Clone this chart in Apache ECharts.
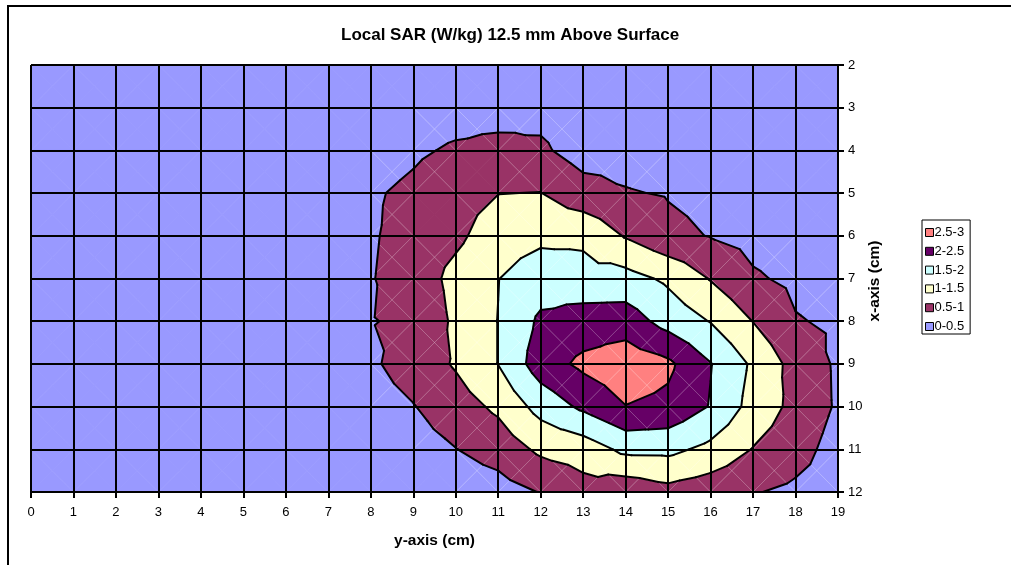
<!DOCTYPE html>
<html><head><meta charset="utf-8">
<script src="https://cdn.jsdelivr.net/npm/echarts@6/dist/echarts.min.js"></script>
<style>html,body{margin:0;padding:0;background:#fff}#c{width:1011px;height:565px}</style>
</head><body><div id="c"></div>
<script>
// Grid coordinates (cm)
const xValues = [0,1,2,3,4,5,6,7,8,9,10,11,12,13,14,15,16,17,18,19];
const yValues = [2,3,4,5,6,7,8,9,10,11,12];
// SAR values (W/kg), one row per yValues entry, one column per xValues entry
const sarRow2  = [0.02,0.02,0.03,0.03,0.04,0.05,0.06,0.08,0.10,0.13,0.16,0.18,0.20,0.17,0.14,0.12,0.10,0.08,0.07,0.06];
const sarRow3  = [0.03,0.03,0.04,0.05,0.06,0.07,0.09,0.12,0.18,0.26,0.31,0.29,0.35,0.22,0.18,0.15,0.13,0.11,0.09,0.07];
const sarRow4  = [0.04,0.04,0.05,0.06,0.08,0.10,0.13,0.20,0.30,0.43,0.56,0.65,0.58,0.29,0.33,0.25,0.20,0.16,0.13,0.10];
const sarRow5  = [0.05,0.05,0.06,0.08,0.10,0.13,0.18,0.28,0.45,0.59,0.80,0.99,1.01,0.69,0.53,0.47,0.38,0.30,0.22,0.15];
const sarRow6  = [0.05,0.06,0.07,0.09,0.11,0.15,0.20,0.30,0.46,0.65,0.88,1.30,1.40,1.40,0.96,0.62,0.48,0.35,0.25,0.18];
const sarRow7  = [0.06,0.06,0.07,0.09,0.12,0.16,0.21,0.32,0.48,0.67,1.17,1.49,1.75,1.68,1.68,1.41,0.97,0.56,0.40,0.30];
const sarRow8  = [0.06,0.06,0.08,0.10,0.12,0.16,0.22,0.33,0.49,0.54,1.10,1.51,2.09,2.23,2.26,1.81,1.48,0.99,0.53,0.43];
const sarRow9  = [0.05,0.06,0.07,0.09,0.11,0.15,0.20,0.30,0.43,0.71,1.05,1.51,2.26,2.61,2.80,2.60,2.02,1.42,0.82,0.43];
const sarRow10 = [0.05,0.05,0.06,0.08,0.10,0.13,0.17,0.23,0.30,0.48,0.77,1.10,1.68,2.10,2.49,2.38,1.97,1.32,0.86,0.44];
const sarRow11 = [0.04,0.04,0.05,0.06,0.08,0.10,0.12,0.16,0.20,0.30,0.49,0.70,1.10,1.22,1.62,1.63,1.37,0.98,0.70,0.30];
const sarRow12 = [0.03,0.03,0.04,0.05,0.06,0.07,0.08,0.09,0.10,0.15,0.20,0.30,0.52,0.82,0.65,0.84,0.70,0.53,0.40,0.25];
const sarGrid = [sarRow2,sarRow3,sarRow4,sarRow5,sarRow6,sarRow7,sarRow8,sarRow9,sarRow10,sarRow11,sarRow12];

// Bands
const bandLabels = ['0-0.5','0.5-1','1-1.5','1.5-2','2-2.5','2.5-3'];
const bandLows   = [-Infinity,0.5,1,1.5,2,2.5];
const bandHighs  = [0.5,1,1.5,2,2.5,Infinity];
const contourLevels = [0.5,1,1.5,2,2.5];
const bandColors = ['#9999FF','#993366','#FFFFCC','#CCFFFF','#660066','#FF8080'];

function buildCells(){
  const out=[];
  for (let j=0;j<yValues.length-1;j++){
    for (let i=0;i<xValues.length-1;i++){
      out.push([xValues[i], yValues[j], xValues[i+1], yValues[j+1],
        sarGrid[j][i], sarGrid[j][i+1], sarGrid[j+1][i+1], sarGrid[j+1][i]]);
    }
  }
  return out;
}
const cells = buildCells();

function clipPoly(poly, level, keepAbove){
  const out=[];
  for (let k=0;k<poly.length;k++){
    const P=poly[k], Q=poly[(k+1)%poly.length];
    const pin = keepAbove ? P[2]>=level : P[2]<=level;
    const qin = keepAbove ? Q[2]>=level : Q[2]<=level;
    if (pin) out.push(P);
    if (pin!==qin){
      const t=(level-P[2])/(Q[2]-P[2]);
      out.push([P[0]+t*(Q[0]-P[0]), P[1]+t*(Q[1]-P[1]), level]);
    }
  }
  return out;
}
function cellCorners(api){
  const x0=api.value(0), y0=api.value(1), x1=api.value(2), y1=api.value(3);
  const a=api.value(4), b=api.value(5), c=api.value(6), d=api.value(7);
  return {P:[[x0,y0,a],[x1,y0,b],[x1,y1,c],[x0,y1,d]], C:[(x0+x1)/2,(y0+y1)/2,(a+b+c+d)/4]};
}
function cellTriangles(api){
  const g=cellCorners(api), tris=[];
  for (let k=0;k<4;k++) tris.push([g.P[k],g.P[(k+1)%4],g.C]);
  return tris;
}
function bandRenderer(lo, hi, color){
  return function(params, api){
    const children=[];
    cellTriangles(api).forEach(function(tri){
      let poly=tri;
      if (lo>-Infinity) poly=clipPoly(poly,lo,true);
      if (poly.length>=3 && hi<Infinity) poly=clipPoly(poly,hi,false);
      if (poly.length>=3){
        children.push({type:'polygon', silent:true,
          shape:{points:poly.map(function(p){return api.coord([p[0],p[1]]);})},
          style:{fill:color, stroke:color, lineWidth:0.8}});
      }
    });
    return {type:'group', children:children};
  };
}
function contourRenderer(params, api){
  const children=[];
  const g=cellCorners(api);
  const vals=g.P.map(function(p){return p[2];}).concat([g.C[2]]);
  const vmin=Math.min.apply(null,vals), vmax=Math.max.apply(null,vals);
  const crossed=contourLevels.some(function(L){return vmin<L && vmax>=L;});
  if (crossed){
    // faint seams between the cell's triangles, as in the original rendering
    [[0,2],[1,3]].forEach(function(pr){
      const p=api.coord([g.P[pr[0]][0],g.P[pr[0]][1]]), q=api.coord([g.P[pr[1]][0],g.P[pr[1]][1]]);
      children.push({type:'line', silent:true,
        shape:{x1:p[0],y1:p[1],x2:q[0],y2:q[1]},
        style:{stroke:'rgba(255,255,255,0.26)', lineWidth:1}});
    });
  }
  cellTriangles(api).forEach(function(tri){
    contourLevels.forEach(function(L){
      const pts=[];
      for (let k=0;k<3;k++){
        const P=tri[k], Q=tri[(k+1)%3];
        if ((P[2]>=L)!==(Q[2]>=L)){
          const t=(L-P[2])/(Q[2]-P[2]);
          pts.push(api.coord([P[0]+t*(Q[0]-P[0]), P[1]+t*(Q[1]-P[1])]));
        }
      }
      if (pts.length===2){
        children.push({type:'polyline', silent:true, shape:{points:pts},
          style:{stroke:'#000', lineWidth:2, lineCap:'round', fill:null}});
      }
    });
  });
  return {type:'group', children:children};
}

const series=[];
for (let b=0;b<bandLabels.length;b++){
  series.push({type:'custom', name:bandLabels[b], data:cells, z:1,
    encode:{x:[0,2], y:[1,3]}, itemStyle:{color:bandColors[b]},
    renderItem:bandRenderer(bandLows[b], bandHighs[b], bandColors[b])});
}
series.push({type:'custom', name:'contours', data:cells, z:3,
  encode:{x:[0,2], y:[1,3]}, renderItem:contourRenderer});

const FONT='"Liberation Sans", Arial, sans-serif';
const chart = echarts.init(document.getElementById('c'), null, {renderer:'canvas'});
chart.setOption({
  animation:false,
  backgroundColor:'#fff',
  title:{text:'Local SAR (W/kg) 12.5 mm Above Surface', left:341, top:27, padding:0,
    textStyle:{fontFamily:FONT, fontSize:17, fontWeight:'bold', color:'#000'}},
  grid:{left:31, right:173, top:65, bottom:73, containLabel:false},
  legend:{orient:'vertical', left:922, top:220, padding:[6,6,1,3], itemGap:5.8,
    itemWidth:8, itemHeight:8, icon:'rect', borderColor:'#000', borderWidth:1,
    itemStyle:{borderColor:'#000', borderWidth:1},
    data:bandLabels.slice().reverse(),
    textStyle:{fontFamily:FONT, fontSize:13, color:'#000', padding:[0,0,0,-4]}},
  xAxis:{type:'value', min:0, max:19, interval:1, position:'bottom', z:5,
    name:'y-axis (cm)', nameLocation:'middle', nameGap:41,
    nameTextStyle:{fontFamily:FONT, fontSize:15.5, fontWeight:'bold', color:'#000'},
    axisLine:{show:true, lineStyle:{color:'#000', width:2}},
    axisTick:{show:true, length:6, lineStyle:{color:'#000', width:2}},
    axisLabel:{fontFamily:FONT, fontSize:13, color:'#000', margin:14},
    splitLine:{show:true, lineStyle:{color:'#000', width:2}}},
  yAxis:{type:'value', min:2, max:12, interval:1, inverse:true, position:'right', z:5,
    axisLine:{show:true, onZero:false, lineStyle:{color:'#000', width:2}},
    axisTick:{show:true, length:6, lineStyle:{color:'#000', width:2}},
    axisLabel:{fontFamily:FONT, fontSize:13, color:'#000', margin:10},
    splitLine:{show:true, lineStyle:{color:'#000', width:2}}},
  graphic:[
    {type:'rect', silent:true, z:-10, shape:{x:8, y:6, width:1200, height:800},
      style:{fill:null, stroke:'#000', lineWidth:2}},
    {type:'text', silent:true, x:875, y:281, rotation:Math.PI/2,
      style:{text:'x-axis (cm)', fontFamily:FONT, fontSize:15.5, fontWeight:'bold', fill:'#000',
        align:'center', verticalAlign:'middle'}}
  ],
  series:series
});
</script></body></html>
